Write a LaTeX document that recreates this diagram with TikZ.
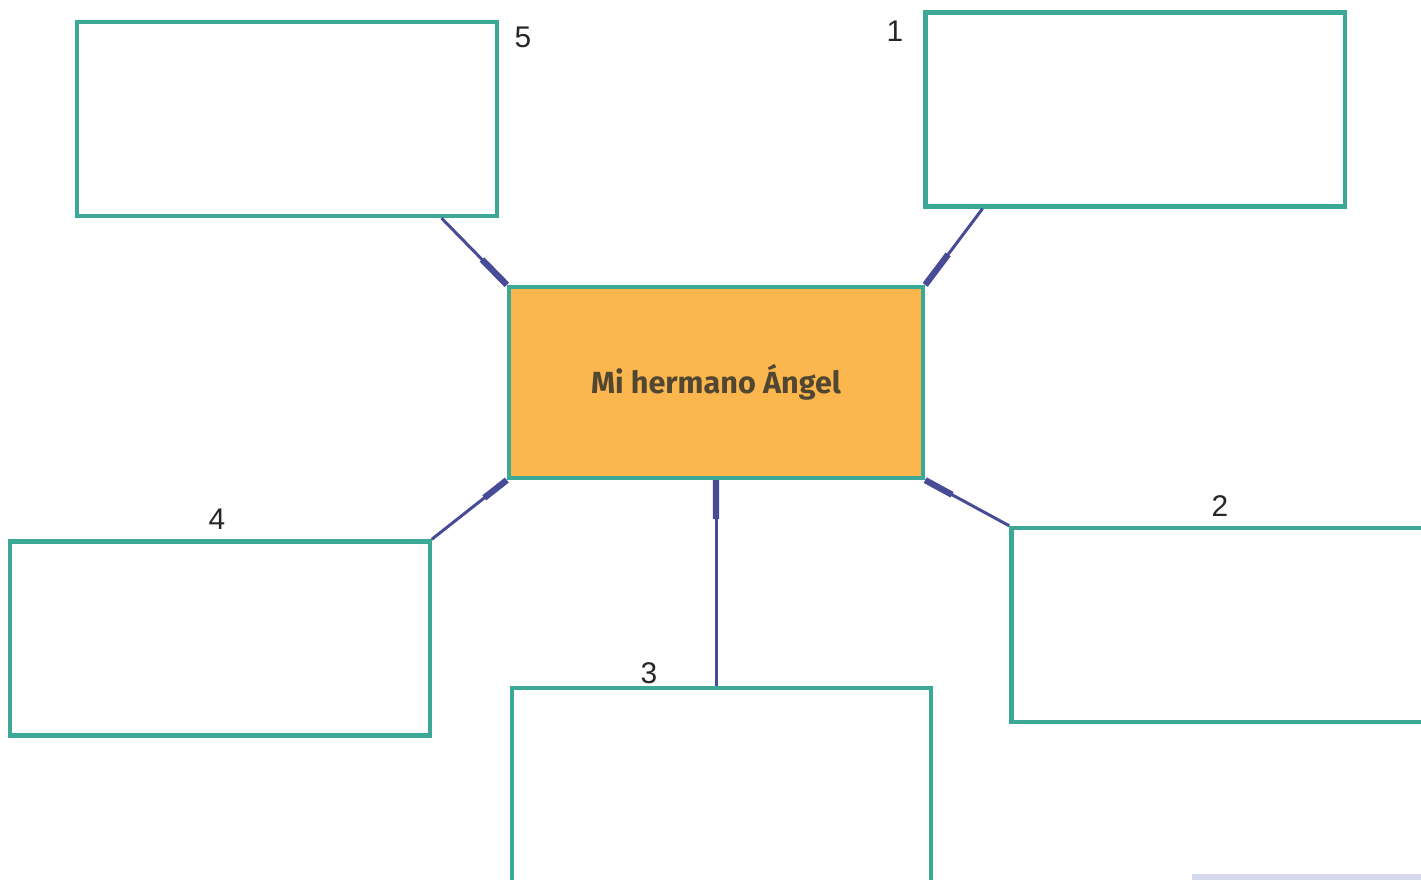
\documentclass[tikz,border=0pt]{standalone}
\usepackage{fontspec}
\setmainfont{Liberation Sans}
\newfontfamily\titlefont{Fira Sans}
\definecolor{boxteal}{RGB}{60, 168, 150}
\definecolor{mainorange}{RGB}{252, 182, 78}
\definecolor{linkblue}{RGB}{72, 76, 150}
\definecolor{textbrown}{RGB}{80, 70, 50}
\definecolor{barlilac}{RGB}{214, 217, 238}
\usetikzlibrary{positioning, calc}

\begin{document}
\begin{tikzpicture}[
  x=0.01cm, y=-0.01cm,
  wbox/.style={draw=boxteal, line width=1.2pt, fill=white, minimum width=4.19cm, minimum height=1.94cm, inner sep=0pt},
  mainbox/.style={draw=boxteal, line width=1.2pt, fill=mainorange, minimum width=4.14cm, minimum height=1.91cm, font=\titlefont\bfseries\fontsize{8.7}{10}\selectfont, text=textbrown},
  link/.style={draw=linkblue, line width=0.85pt},
  stub/.style={draw=linkblue, line width=1.8pt},
  num/.style={font=\fontsize{8.5}{10}\selectfont, text=black!85}
]
  \useasboundingbox (0,0) rectangle (1421,880);
  \fill[barlilac] (1192,874) rectangle (1421,880);

  % the word in the middle
  \node[mainbox] (centre) at (716,382.5) {\raisebox{-0.6ex}{Mi hermano Ángel}};

  % the five boxes round it
  \node[wbox] (b1) at (1135,109.5) {};
  \node[wbox] (b2) at (1221,625) {};
  \node[wbox] (b3) at (721.5,785) {};
  \node[wbox] (b4) at (220,638.5) {};
  \node[wbox] (b5) at (287,119) {};

  \node[num] (n1) at (895,31) {1};
  \node[num] (n2) at (1220,506) {2};
  \node[num] (n3) at (649,673) {3};
  \node[num] (n4) at (217,519) {4};
  \node[num] (n5) at (523,37) {5};

  % connectors
  \coordinate (e1) at ($(b1.south west)!0.14!(b1.south east)$);
  \coordinate (e2) at (b2.north west);
  \coordinate (e3) at (b3.north -| centre.south);
  \coordinate (e4) at (b4.north east);
  \coordinate (e5) at ($(b5.south west)!0.865!(b5.south east)$);

  \draw[link] (e1) -- (centre.north east);
  \draw[stub] (centre.north east) -- ($(centre.north east)!0.4!(e1)$);
  \draw[link] (e2) -- (centre.south east);
  \draw[stub] (centre.south east) -- ($(centre.south east)!0.32!(e2)$);
  \draw[link] (e3) -- (centre.south);
  \draw[stub] (centre.south) -- ($(centre.south)!0.19!(e3)$);
  \draw[link] (e4) -- (centre.south west);
  \draw[stub] (centre.south west) -- ($(centre.south west)!0.3!(e4)$);
  \draw[link] (e5) -- (centre.north west);
  \draw[stub] (centre.north west) -- ($(centre.north west)!0.38!(e5)$);
\end{tikzpicture}
\end{document}
